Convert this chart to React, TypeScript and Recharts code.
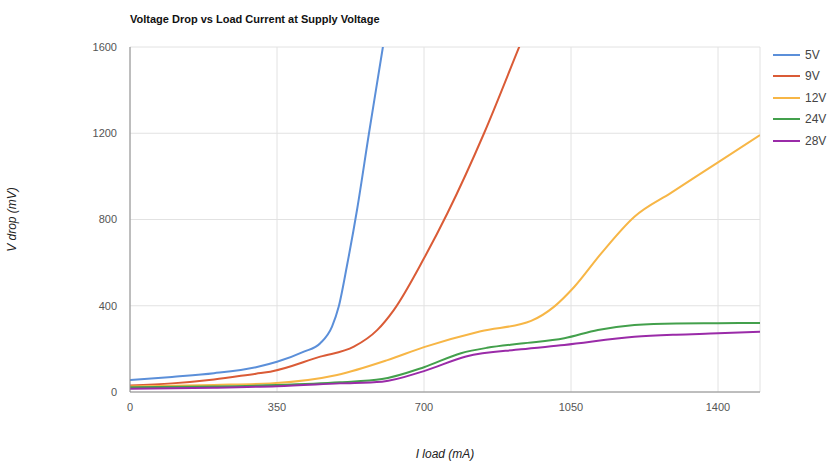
import React from "react";
import { LineChart, Line, XAxis, YAxis, CartesianGrid } from "recharts";

const seriesNames = ["5V", "9V", "12V", "24V", "28V"];
const seriesColors = ["#5b8fd9", "#da5b36", "#f7b646", "#43a04c", "#9a2ba8"];

const current5V = [0, 100, 200, 300, 350, 414, 453, 481, 497, 517, 541, 569, 601, 620];
const drop5V = [55, 70, 87, 115, 140, 187, 226, 303, 396, 590, 850, 1200, 1586, 1820];

const current9V = [0, 100, 200, 300, 334, 453, 533, 589, 628, 700, 756, 843, 927, 950];
const drop9V = [30, 40, 58, 85, 94, 164, 210, 288, 380, 620, 830, 1200, 1602, 1712];

const current12V = [0, 200, 334, 493, 613, 700, 835, 955, 1010, 1058, 1122, 1201, 1289, 1400, 1500];
const drop12V = [25, 33, 40, 79, 148, 208, 282, 330, 396, 488, 643, 813, 925, 1065, 1192];

const current24V = [0, 200, 350, 500, 600, 700, 788, 850, 931, 1034, 1114, 1201, 1300, 1400, 1500];
const drop24V = [22, 25, 32, 45, 60, 115, 180, 205, 225, 249, 288, 311, 318, 319, 320];

const current28V = [0, 200, 350, 500, 600, 700, 800, 931, 1034, 1201, 1300, 1400, 1500];
const drop28V = [15, 20, 27, 40, 48, 97, 165, 198, 218, 256, 266, 272, 280];

const xTicks = [0, 350, 700, 1050, 1400];
const yTicks = [0, 400, 800, 1200, 1600];

const currents = [current5V, current9V, current12V, current24V, current28V];
const drops = [drop5V, drop9V, drop12V, drop24V, drop28V];

const seriesData = currents.map((xs, i) => xs.map((x, j) => ({ x, y: drops[i][j] })));

const FONT = "'Liberation Sans', Arial, sans-serif";

export default function App() {
  return (
    <div style={{ position: "absolute", left: 0, top: 0, width: 829, height: 464, background: "#fff" }}>
      <div
        style={{
          position: "absolute",
          left: 130,
          top: 13,
          fontFamily: FONT,
          fontWeight: "bold",
          fontSize: 11,
          color: "#111",
          whiteSpace: "nowrap",
        }}
      >
        Voltage Drop vs Load Current at Supply Voltage
      </div>
      <div style={{ position: "absolute", left: 773, top: 44, fontFamily: FONT, fontSize: 12, color: "#444" }}>
        {seriesNames.map((n, i) => (
          <div key={n} style={{ display: "flex", alignItems: "center", height: 21.5 }}>
            <div style={{ width: 27, height: 2, background: seriesColors[i], marginRight: 5 }} />
            <span>{n}</span>
          </div>
        ))}
      </div>
      <LineChart
        width={829}
        height={464}
        margin={{ top: 47, right: 69, bottom: 42, left: 0 }}
        style={{ fontFamily: FONT }}
      >
        <CartesianGrid stroke="#e2e2e2" strokeWidth={1} />
        <XAxis
          type="number"
          dataKey="x"
          domain={[0, 1500]}
          ticks={xTicks}
          allowDataOverflow
          height={30}
          tickSize={0}
          tickMargin={11}
          axisLine={{ stroke: "#8a8a8a" }}
          tick={{ fill: "#555", fontSize: 11 }}
          label={{
            value: "I load (mA)",
            position: "insideBottom",
            offset: -36,
            style: { fill: "#222", fontSize: 12, fontStyle: "italic" },
          }}
        />
        <YAxis
          type="number"
          dataKey="y"
          domain={[0, 1600]}
          ticks={yTicks}
          allowDataOverflow
          width={130}
          tickSize={0}
          tickMargin={13}
          axisLine={{ stroke: "#8a8a8a" }}
          tick={{ fill: "#555", fontSize: 11 }}
          label={{
            value: "V drop (mV)",
            angle: -90,
            position: "insideLeft",
            offset: 12,
            style: { fill: "#222", fontSize: 12, fontStyle: "italic", textAnchor: "middle" },
          }}
        />
        {seriesNames.map((n, i) => (
          <Line
            key={n}
            name={n}
            data={seriesData[i]}
            dataKey="y"
            type="monotone"
            stroke={seriesColors[i]}
            strokeWidth={2}
            dot={false}
            activeDot={false}
            isAnimationActive={false}
          />
        ))}
      </LineChart>
    </div>
  );
}
